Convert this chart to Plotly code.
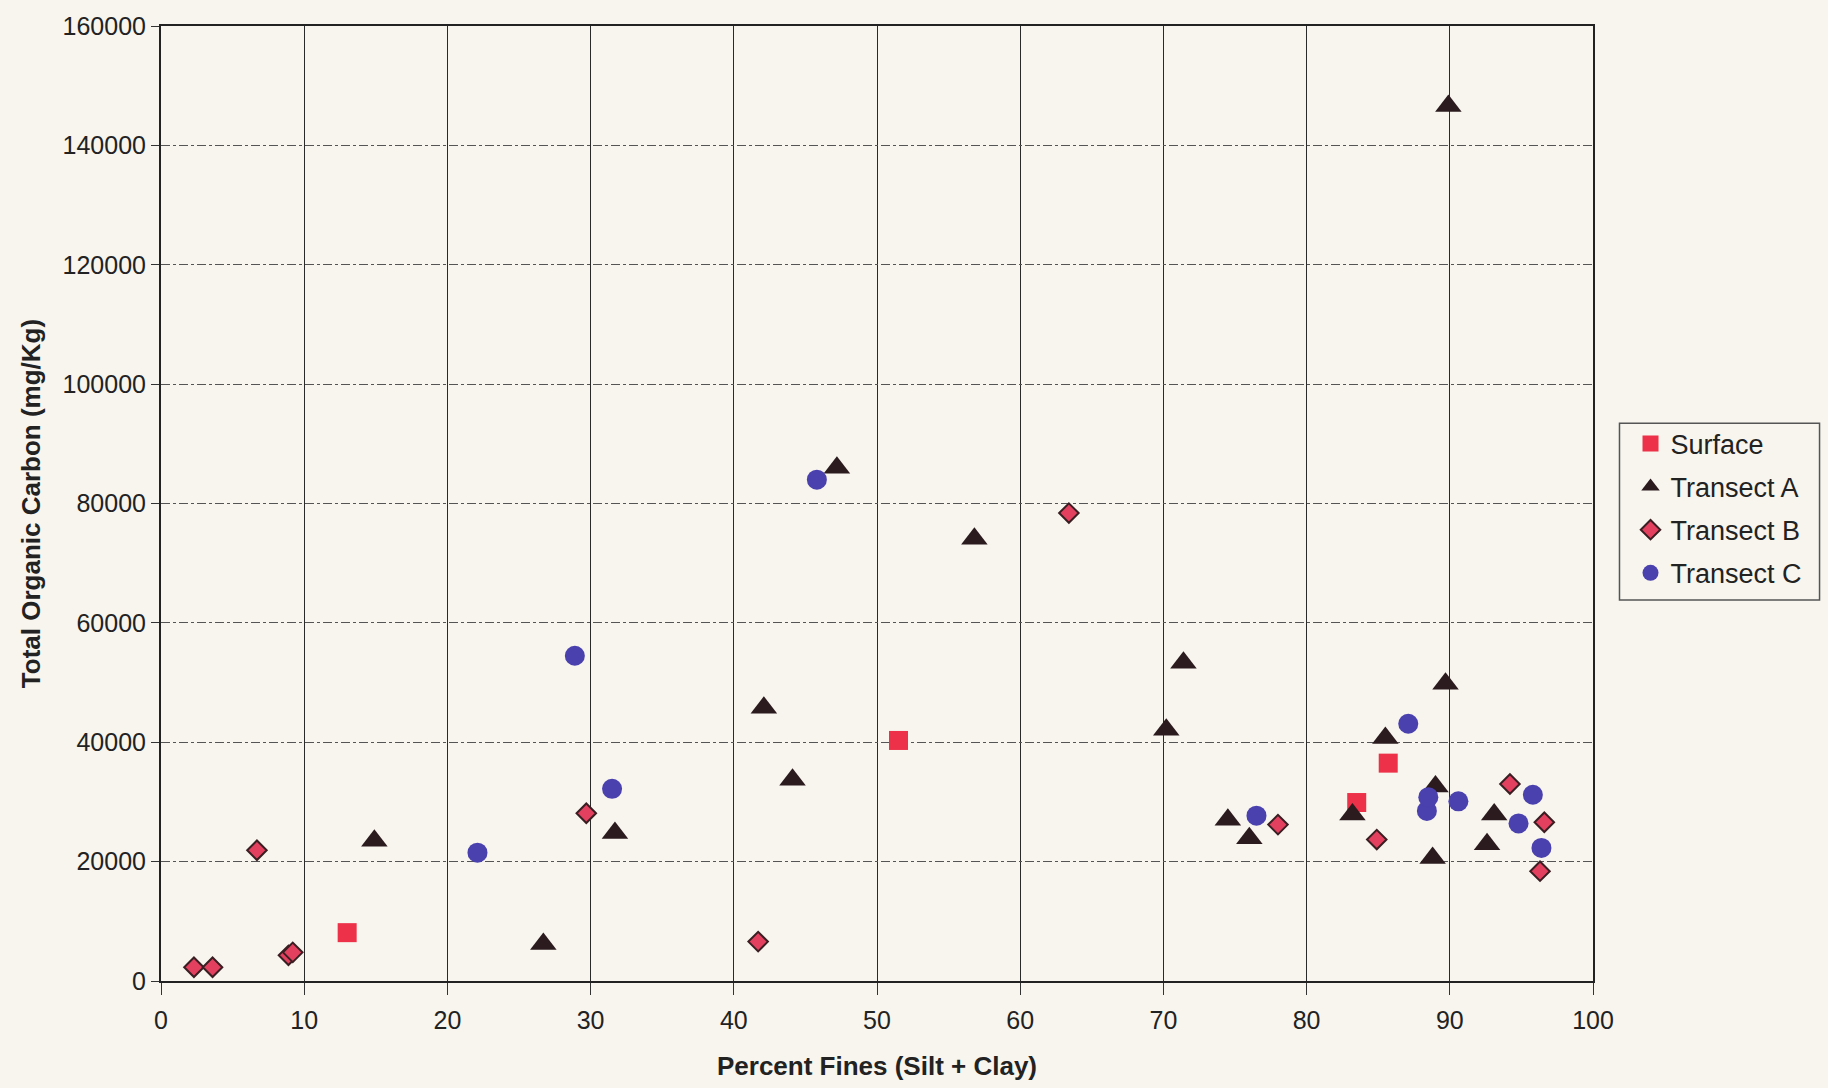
import plotly.graph_objects as go

# ---- data (Percent fines vs TOC mg/Kg) ----
surface_x = [13.0, 51.5, 83.5, 85.7]
surface_y = [8100, 40300, 29900, 36500]

transA_x = [14.9, 26.7, 31.7, 42.1, 44.1, 47.2, 56.8, 70.2, 71.4, 74.5, 76.0, 83.2, 85.5, 88.8, 89.0, 89.7, 89.9, 92.6, 93.1]
transA_y = [23500, 6200, 24800, 45800, 33700, 86000, 74100, 42100, 53300, 27000, 23900, 27900, 40700, 20600, 32600, 49800, 146600, 22900, 27900]

transB_x = [2.3, 3.6, 6.7, 8.9, 9.2, 29.7, 41.7, 63.4, 78.0, 84.9, 94.2, 96.3, 96.6]
transB_y = [2300, 2300, 21900, 4300, 4800, 28100, 6600, 78400, 26200, 23700, 33000, 18400, 26600]

transC_x = [22.1, 28.9, 31.5, 45.8, 76.5, 87.1, 88.4, 88.5, 90.6, 94.8, 95.8, 96.4]
transC_y = [21500, 54500, 32200, 84000, 27700, 43100, 28500, 30800, 30100, 26400, 31200, 22300]

x_ticks = list(range(0, 101, 10))
y_ticks = list(range(0, 160001, 20000))

BG = "#F7F5EE"
FONT = "Liberation Sans, Arial, sans-serif"

fig = go.Figure()
fig.add_trace(go.Scatter(x=surface_x, y=surface_y, mode="markers", name="Surface",
                         legendgroup="s",
                         marker=dict(symbol="square", size=19, color="#EC3148",
                                     line=dict(width=0))))
fig.add_trace(go.Scatter(x=transA_x, y=transA_y, mode="markers", name="Transect A",
                         legendgroup="a",
                         marker=dict(symbol="triangle-up", size=23, color="#2B1B1E",
                                     line=dict(width=0))))
fig.add_trace(go.Scatter(x=transB_x, y=transB_y, mode="markers", name="Transect B",
                         legendgroup="b",
                         marker=dict(symbol="diamond", size=15, color="#E3405F",
                                     line=dict(width=2, color="#3A1E22"))))
fig.add_trace(go.Scatter(x=transC_x, y=transC_y, mode="markers", name="Transect C",
                         legendgroup="c",
                         marker=dict(symbol="circle", size=20, color="#4A40AE",
                                     line=dict(width=0))))

# legend frame (matches the box in the reference)
fig.add_shape(type="rect", xref="paper", yref="paper",
              x0=1.0185, x1=1.1582, y0=0.399, y1=0.584,
              line=dict(color="#555555", width=1.5), fillcolor="rgba(0,0,0,0)",
              layer="below")

fig.update_layout(
    width=1828, height=1088,
    margin=dict(l=161, r=235, t=20, b=106),
    paper_bgcolor=BG, plot_bgcolor=BG,
    font=dict(family=FONT, size=25, color="#222222"),
    showlegend=True,
    legend=dict(x=1.0262, y=0.588, xanchor="left", yanchor="top",
                bgcolor="rgba(0,0,0,0)", borderwidth=0,
                font=dict(size=27, family=FONT, color="#222222"),
                itemwidth=30, tracegroupgap=5),
    xaxis=dict(range=[0, 100], tickvals=x_ticks, showgrid=True, gridcolor="#2a2a2a",
               gridwidth=1.2, zeroline=False, showline=True, linecolor="#222222",
               linewidth=2, mirror=True, ticks="outside", ticklen=12, tickcolor="#333333",
               tickfont=dict(size=25), ticklabelstandoff=4,
               title=dict(text="<b>Percent Fines (Silt + Clay)</b>", font=dict(size=26),
                          standoff=24)),
    yaxis=dict(range=[0, 160000], tickvals=y_ticks, tickformat="d", showgrid=True,
               gridcolor="#555555", gridwidth=1.2, griddash="dashdot", zeroline=False,
               showline=True, linecolor="#222222", linewidth=2, mirror=True,
               ticks="outside", ticklen=8, tickcolor="#333333", tickfont=dict(size=25),
               title=dict(text="<b>Total Organic Carbon (mg/Kg)</b>", font=dict(size=26),
                          standoff=14)),
)

fig.write_html("out.html", config={"displayModeBar": False},
               post_script="document.body.style.margin='0';document.body.style.overflow='hidden';")
